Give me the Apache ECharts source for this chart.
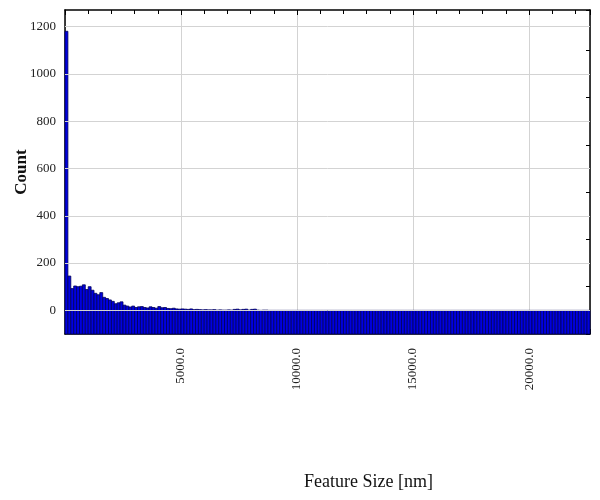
<!DOCTYPE html>
<html>
<head>
<meta charset="utf-8">
<script src="https://cdn.jsdelivr.net/npm/echarts@6/dist/echarts.min.js"></script>
<style>html,body{margin:0;padding:0;background:#fff}#c{width:600px;height:500px}</style>
</head>
<body>
<div id="c"></div>
<script>
// Histogram bins
var binWidth = 125;
var counts = [
  1180, 145, 92, 103, 100, 102, 108, 88, 100, 85,
  72, 66, 75, 55, 50, 44, 38, 28, 32, 36,
  22, 18, 14, 18, 12, 15, 16, 12, 10, 15,
  12, 9, 16, 11, 12, 8, 7, 9, 6, 5,
  6, 5, 4, 6, 3, 4, 3, 2, 3, 2,
  2, 3, 1, 2, 1, 1, 2, 1, 4, 5,
  2, 4, 5, 1, 4, 5, 1, 0, 1, 1,
  0, 0, 0, 0, 0, 0, 0, 0, 0, 0,
  0, 0, 0, 0, 0, 0, 0, 0, 0, 0,
  0, 0, 0, 0, 0, 0, 0, 0, 0, 0,
  0, 0, 0, 0, 0, 0, 0, 0, 0, 0,
  0, 0, 0, 0, 0, 0, 0, 0, 0, 0,
  0, 0, 0, 0, 0, 0, 0, 0, 0, 0,
  0, 0, 0, 0, 0, 0, 0, 0, 0, 0,
  0, 0, 0, 0, 0, 0, 0, 0, 0, 0,
  0, 0, 0, 0, 0, 0, 0, 0, 0, 0,
  0, 0, 0, 0, 0, 0, 0, 0, 0, 0,
  0, 0, 0, 0, 0, 0, 0, 0, 0, 0,
  0
];
var yMin = -100, yMax = 1270;
var yGridValues = [0, 200, 400, 600, 800, 1000, 1200];
var xMin = 0, xMax = 22625;
var xTickInterval = 5000;

var data = counts.map(function (c, i) { return [i * binWidth, (i + 1) * binWidth, c]; });

var chart = echarts.init(document.getElementById('c'), null, {renderer: 'canvas'});
var serif = '"Liberation Serif", "Times New Roman", serif';
chart.setOption({
  animation: false,
  backgroundColor: '#fff',
  title: {
    text: 'Feature Size [nm]',
    left: 299, top: 468,
    textStyle: {fontFamily: serif, fontSize: 18, fontWeight: 'normal', color: '#111'}
  },
  grid: {left: 65, right: 10, top: 10, bottom: 166, containLabel: false, outerBoundsMode: 'none'},
  xAxis: [{
    type: 'value', min: xMin, max: xMax, interval: xTickInterval,
    axisLine: {show: true, onZero: false, lineStyle: {color: '#000', width: 1.5}},
    axisTick: {show: true, inside: true, length: 5, lineStyle: {color: '#000'}},
    axisLabel: {
      rotate: 90, margin: 14, fontFamily: serif, fontSize: 13, color: '#222',
      formatter: function (v) { return (v === 0 || v === xMax) ? '' : v.toFixed(1); }
    },
    splitLine: {show: true, lineStyle: {color: '#d3d3d3', width: 1}}
  }, {
    type: 'value', position: 'top', min: xMin, max: xMax, interval: xTickInterval,
    axisLine: {show: true, onZero: false, lineStyle: {color: '#000', width: 1.5}},
    axisTick: {show: true, inside: true, length: 5, lineStyle: {color: '#000'}},
    minorTick: {show: true, splitNumber: 5, length: 4, lineStyle: {color: '#000'}},
    axisLabel: {show: false},
    splitLine: {show: false}
  }],
  yAxis: [{
    type: 'value', min: yMin, max: yMax, interval: 100,
    name: 'Count', nameLocation: 'middle', nameGap: 35, nameRotate: 90, nameMoveOverlap: false,
    nameTextStyle: {fontFamily: serif, fontSize: 17, fontWeight: 'bold', color: '#111'},
    axisLine: {show: true, onZero: false, lineStyle: {color: '#000', width: 1.5}},
    axisTick: {show: false},
    axisLabel: {
      margin: 9, fontFamily: serif, fontSize: 13, color: '#222',
      formatter: function (v) { return yGridValues.indexOf(v) >= 0 ? String(v) : ''; }
    },
    splitLine: {show: false}
  }, {
    type: 'value', position: 'right', min: yMin, max: yMax, interval: 100,
    axisLine: {show: true, onZero: false, lineStyle: {color: '#000', width: 1.5}},
    axisTick: {show: true, inside: true, length: 4, lineStyle: {color: '#000'}},
    axisLabel: {show: false},
    splitLine: {show: false}
  }],
  series: [{
    type: 'line', data: [], z: 1, silent: true,
    markLine: {
      silent: true, symbol: 'none', label: {show: false},
      lineStyle: {color: '#d3d3d3', width: 1, type: 'solid'},
      data: yGridValues.map(function (v) { return {yAxis: v}; })
    }
  }, {
    type: 'custom', z: 3,
    data: data,
    encode: {x: [0, 1], y: 2},
    renderItem: function (params, api) {
      var p0 = api.coord([api.value(0), yMin]);
      var p1 = api.coord([api.value(1), api.value(2)]);
      return {
        type: 'rect',
        shape: {x: p0[0], y: p1[1], width: p1[0] - p0[0], height: p0[1] - p1[1]},
        style: {fill: '#0000e0', stroke: '#000058', lineWidth: 0.8}
      };
    }
  }]
});
</script>
</body>
</html>
